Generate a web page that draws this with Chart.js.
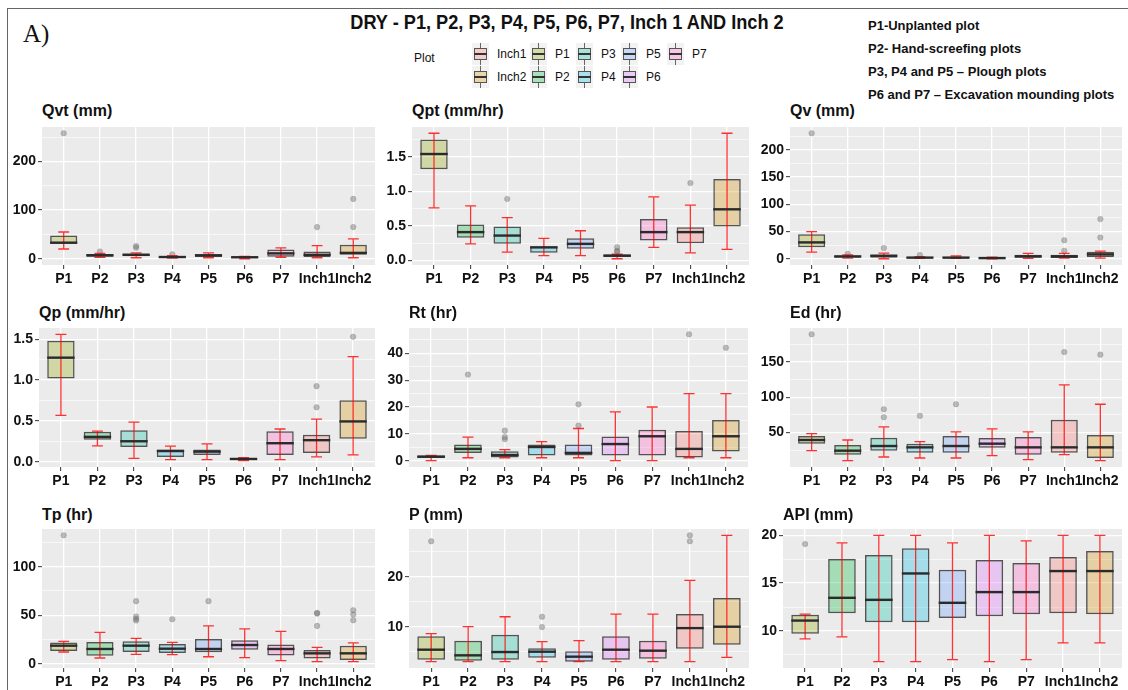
<!DOCTYPE html>
<html lang="en">
<head>
<meta charset="UTF-8">
<title>DRY - box plots</title>
<style>
    body {
        margin: 0;
        width: 1128px;
        height: 690px;
        background: #ffffff;
        position: relative;
        overflow: hidden;
        font-family: 'Liberation Sans', Arial, sans-serif;
        color: #111;
    }
    .frameTop { position: absolute; left: 7px; top: 8px; width: 1121px; height: 0; border-top: 1.5px solid #666; }
    .frameLeft { position: absolute; left: 7px; top: 8px; width: 0; height: 682px; border-left: 1.5px solid #666; }
    .tag { position: absolute; left: 23px; top: 21px; font-family: 'Liberation Serif', 'Times New Roman', serif; font-size: 25px; line-height: 25px; }
    .mainTitle { position: absolute; left: 267px; width: 600px; top: 11px; text-align: center; white-space: nowrap; font-weight: bold; font-size: 21px; line-height: 22px; transform: scaleX(0.865); transform-origin: 300px 0; }
    .notes { position: absolute; left: 868px; top: 14px; font-weight: bold; font-size: 13px; line-height: 23px; white-space: nowrap; }
    .plotLbl { position: absolute; left: 414px; top: 50px; font-size: 12px; line-height: 16px; }
    .key { position: absolute; width: 17px; height: 22px; background: #f2f2f2; }
    .key .wl { position: absolute; left: 8px; top: 0; width: 1px; height: 22px; background: #666; }
    .key .kb { position: absolute; left: 2px; top: 5px; width: 11px; height: 10px; border: 1px solid #555; }
    .key .km { position: absolute; left: 2px; top: 10px; width: 13px; height: 1.5px; background: #333; }
    .keyLbl { position: absolute; font-size: 12px; line-height: 16px; }
    .ptitle { position: absolute; font-weight: bold; font-size: 16px; line-height: 18px; }
    canvas { position: absolute; }
</style>
</head>
<body>
<div class="frameTop"></div>
<div class="frameLeft"></div>
<div class="tag">A)</div>
<div class="mainTitle">DRY - P1, P2, P3, P4, P5, P6, P7, Inch 1 AND Inch 2</div>
<div class="notes">
    P1-Unplanted plot<br>
    P2- Hand-screefing plots<br>
    P3, P4 and P5 – Plough plots<br>
    P6 and P7 – Excavation mounding plots
</div>
<div class="plotLbl">Plot</div>
<div id="legend"></div>
<div id="panels"></div>

<script src="https://cdn.jsdelivr.net/npm/chart.js@4.4.1/dist/chart.umd.min.js"></script>
<script>
    // categories and fill colours (ggplot hue palette)
    const categories = ['P1', 'P2', 'P3', 'P4', 'P5', 'P6', 'P7', 'Inch1', 'Inch2'];
    const fillColors = ['#93AA00', '#00BA38', '#00C19F', '#00B9E3', '#619CFF', '#DB72FB', '#FF61C3', '#F8766D', '#D39200'];
    const legendOrder = ['Inch1', 'Inch2', 'P1', 'P2', 'P3', 'P4', 'P5', 'P6', 'P7'];

    // Qvt (mm)
    const qvtLow  = [20, 3, 2, 1.5, 2, 0, 3, 2, 2];
    const qvtQ1   = [31, 4, 5.5, 2, 3.4, 1.4, 4, 3.4, 8];
    const qvtMed  = [33, 7, 8, 3.5, 7, 3, 11, 8, 12];
    const qvtQ3   = [48, 9.6, 11, 5.5, 9, 4.5, 19, 15, 29];
    const qvtHigh = [55, 11, 12, 6.5, 12, 5, 22.5, 27, 41];
    const qvtOut  = [['P1', 258], ['P2', 15], ['P3', 26], ['P3', 22.5], ['P4', 9], ['Inch1', 65], ['Inch2', 123], ['Inch2', 65]];
    const qvtTicks = [0, 100, 200];
    const qvtTickLabels = ['0', '100', '200'];

    // Qpt (mm/hr)
    const qptLow  = [0.76, 0.24, 0.12, 0.07, 0.07, 0.025, 0.19, 0.11, 0.16];
    const qptQ1   = [1.32, 0.33, 0.24, 0.11, 0.17, 0.05, 0.29, 0.25, 0.49];
    const qptMed  = [1.54, 0.41, 0.36, 0.19, 0.24, 0.07, 0.41, 0.41, 0.74];
    const qptQ3   = [1.75, 0.52, 0.49, 0.20, 0.32, 0.085, 0.60, 0.48, 1.18];
    const qptHigh = [1.84, 0.79, 0.62, 0.32, 0.43, 0.09, 0.92, 0.80, 1.84];
    const qptOut  = [['P3', 0.89], ['P6', 0.19], ['P6', 0.14], ['P6', 0.125], ['Inch1', 1.12]];
    const qptTicks = [0, 0.5, 1.0, 1.5];
    const qptTickLabels = ['0.0', '0.5', '1.0', '1.5'];

    // Qv (mm)
    const qvLow  = [12, 1, 0, 0.5, 0.6, 0, 0.6, 1.2, 1.2];
    const qvQ1   = [21, 2, 2, 0.8, 0.8, 0.3, 2, 1.5, 3];
    const qvMed  = [30, 4.3, 5.5, 2, 2, 1.2, 4.3, 4.3, 8];
    const qvQ3   = [45, 5.5, 7.3, 3.5, 3.5, 3, 7.3, 7.3, 12.8];
    const qvHigh = [50, 7, 10.4, 3.8, 5, 3, 9.8, 9.8, 14];
    const qvOut  = [['P1', 230.6], ['P2', 9], ['P3', 19.6], ['P4', 6.7], ['Inch1', 34], ['Inch1', 14.7], ['Inch2', 73], ['Inch2', 39]];
    const qvTicks = [0, 50, 100, 150, 200];
    const qvTickLabels = ['0', '50', '100', '150', '200'];

    // Qp (mm/hr)
    const qpLow  = [0.567, 0.193, 0.041, 0.025, 0.025, 0.012, 0.025, 0.058, 0.082];
    const qpQ1   = [1.02, 0.267, 0.181, 0.058, 0.082, 0.025, 0.082, 0.107, 0.28];
    const qpMed  = [1.274, 0.304, 0.25, 0.13, 0.123, 0.033, 0.226, 0.263, 0.493];
    const qpQ3   = [1.48, 0.366, 0.386, 0.148, 0.148, 0.041, 0.374, 0.33, 0.752];
    const qpHigh = [1.56, 0.374, 0.485, 0.19, 0.218, 0.05, 0.40, 0.52, 1.286];
    const qpOut  = [['Inch1', 0.925], ['Inch1', 0.666], ['Inch2', 1.53]];
    const qpTicks = [0, 0.5, 1.0, 1.5];
    const qpTickLabels = ['0.0', '0.5', '1.0', '1.5'];

    // Rt (hr)
    const rtLow  = [0, 1.1, 1.1, 1.1, 1.1, 0, 0, 1.1, 1.1];
    const rtQ1   = [1.0, 2.9, 1.2, 1.9, 1.9, 1.9, 1.9, 1.2, 3.4];
    const rtMed  = [1.5, 4.4, 2.1, 5.1, 2.9, 6.2, 9.1, 4.4, 9.1];
    const rtQ3   = [1.9, 6, 3.5, 6, 6, 9, 11.5, 11.1, 15.2];
    const rtHigh = [2.0, 8.8, 4.1, 7.1, 12, 18.2, 20, 25, 25];
    const rtOut  = [['P2', 32.1], ['P3', 11.2], ['P3', 8.8], ['P3', 8.0], ['P5', 21], ['P5', 13.1], ['Inch1', 47.1], ['Inch2', 42.1]];
    const rtTicks = [0, 10, 20, 30, 40];
    const rtTickLabels = ['0', '10', '20', '30', '40'];

    // Ed (hr)
    const edLow  = [24.5, 10.4, 15.6, 14.2, 14.2, 17.5, 11.8, 18.9, 10.4];
    const edQ1   = [34.4, 18.9, 24.5, 21.7, 21.7, 28.8, 18.9, 21.7, 14.2];
    const edMed  = [39.6, 24.5, 31.1, 29.2, 31.1, 34.4, 29.2, 29.2, 29.2];
    const edQ3   = [45.3, 32.5, 42.9, 34.4, 45.3, 42.5, 43.9, 68, 46.7];
    const edHigh = [48.6, 39.6, 58, 37.3, 51, 55.2, 51, 117.5, 90];
    const edOut  = [['P1', 188.7], ['P3', 83], ['P3', 71.7], ['P4', 73.6], ['P5', 90.1], ['Inch1', 163.7], ['Inch2', 160]];
    const edTicks = [50, 100, 150];
    const edTickLabels = ['50', '100', '150'];

    // Tp (hr)
    const tpLow  = [12.1, 5.9, 9.7, 9.3, 7.2, 6.2, 3.1, 2.1, 2.1];
    const tpQ1   = [13.1, 8.3, 12.1, 11, 11.7, 14.5, 8.6, 5.5, 3.8];
    const tpMed  = [18.6, 15.2, 18.6, 15.5, 15.2, 19.3, 15.2, 10.7, 10.7];
    const tpQ3   = [22, 22.4, 23.1, 20.3, 25.5, 24.1, 19.7, 14.1, 18.6];
    const tpHigh = [23.1, 32.4, 26.2, 22, 39, 35.9, 33.4, 16.9, 21.4];
    const tpOut  = [['P1', 132.4], ['P3', 64.5], ['P3', 48.6], ['P3', 46.2], ['P3', 44.5], ['P4', 45.9], ['P5', 64.5],
                    ['Inch1', 52.4], ['Inch1', 51.7], ['Inch1', 39], ['Inch2', 55.2], ['Inch2', 50.7], ['Inch2', 44.8]];
    const tpTicks = [0, 50, 100];
    const tpTickLabels = ['0', '50', '100'];

    // P (mm)
    const pLow  = [3.0, 3.0, 3.0, 3.0, 3.0, 3.0, 3.0, 3.0, 3.87];
    const pQ1   = [3.4, 3.2, 3.4, 3.8, 3.0, 3.4, 3.6, 5.6, 6.4];
    const pMed  = [5.4, 4.27, 4.93, 5.0, 4.0, 5.4, 5.2, 9.73, 10];
    const pQ3   = [8.07, 7.2, 8.4, 5.67, 5.07, 8.07, 7.2, 12.53, 15.73];
    const pHigh = [8.6, 10, 12, 7, 7.2, 12.53, 12.53, 19.27, 28.3];
    const pOut  = [['P1', 27.1], ['P4', 12], ['P4', 9.93], ['Inch1', 28.3], ['Inch1', 27.1]];
    const pTicks = [10, 20];
    const pTickLabels = ['10', '20'];

    // API (mm)
    const apiLow  = [9.16, 9.37, 6.78, 6.78, 7.0, 6.78, 7.0, 8.74, 8.74];
    const apiQ1   = [9.69, 11.85, 10.91, 10.91, 11.36, 11.54, 11.75, 11.85, 11.75];
    const apiMed  = [11.08, 13.46, 13.25, 16.01, 12.94, 14.06, 14.06, 16.26, 16.26];
    const apiQ3   = [11.68, 17.52, 17.94, 18.64, 16.4, 17.41, 17.1, 17.73, 18.36];
    const apiHigh = [11.75, 19.2, 20, 20, 19.2, 20, 19.41, 20, 20];
    const apiOut  = [['P1', 19.09]];
    const apiTicks = [10, 15, 20];
    const apiTickLabels = ['10', '15', '20'];

    const panels = [
        { title: 'Qvt (mm)',    low: qvtLow, q1: qvtQ1, med: qvtMed, q3: qvtQ3, high: qvtHigh, out: qvtOut, ticks: qvtTicks, tickLabels: qvtTickLabels },
        { title: 'Qpt (mm/hr)', low: qptLow, q1: qptQ1, med: qptMed, q3: qptQ3, high: qptHigh, out: qptOut, ticks: qptTicks, tickLabels: qptTickLabels },
        { title: 'Qv (mm)',     low: qvLow,  q1: qvQ1,  med: qvMed,  q3: qvQ3,  high: qvHigh,  out: qvOut,  ticks: qvTicks,  tickLabels: qvTickLabels },
        { title: 'Qp (mm/hr)',  low: qpLow,  q1: qpQ1,  med: qpMed,  q3: qpQ3,  high: qpHigh,  out: qpOut,  ticks: qpTicks,  tickLabels: qpTickLabels },
        { title: 'Rt (hr)',     low: rtLow,  q1: rtQ1,  med: rtMed,  q3: rtQ3,  high: rtHigh,  out: rtOut,  ticks: rtTicks,  tickLabels: rtTickLabels },
        { title: 'Ed (hr)',     low: edLow,  q1: edQ1,  med: edMed,  q3: edQ3,  high: edHigh,  out: edOut,  ticks: edTicks,  tickLabels: edTickLabels },
        { title: 'Tp (hr)',     low: tpLow,  q1: tpQ1,  med: tpMed,  q3: tpQ3,  high: tpHigh,  out: tpOut,  ticks: tpTicks,  tickLabels: tpTickLabels },
        { title: 'P (mm)',      low: pLow,   q1: pQ1,   med: pMed,   q3: pQ3,   high: pHigh,   out: pOut,   ticks: pTicks,   tickLabels: pTickLabels },
        { title: 'API (mm)',    low: apiLow, q1: apiQ1, med: apiMed, q3: apiQ3, high: apiHigh, out: apiOut, ticks: apiTicks, tickLabels: apiTickLabels }
    ];

    // plot area of each panel on the page: left, top, right, bottom
    const panelBoxes = [
        [42, 127, 375, 265], [412, 127, 749, 265], [790, 127, 1122, 265],
        [39, 328, 375, 467], [409, 328, 748, 467], [790, 328, 1122, 467],
        [42, 529, 375, 668], [409, 529, 749, 668], [783, 529, 1122, 668]
    ];
    const titleTops = [102, 304, 506];

    function rgba(hex, a) {
        const n = parseInt(hex.slice(1), 16);
        return `rgba(${n >> 16},${(n >> 8) & 255},${n & 255},${a})`;
    }
    function mixOn(hex, a, bg) {
        const n = parseInt(hex.slice(1), 16);
        const c = [n >> 16, (n >> 8) & 255, n & 255].map(v => Math.round(v * a + bg * (1 - a)));
        return `rgb(${c[0]},${c[1]},${c[2]})`;
    }

    // legend (mini box keys, two rows)
    const legendColX = [472, 530, 576, 621, 667];
    const legendRowY = [43, 66];
    const legend = document.getElementById('legend');
    legendOrder.forEach((name, k) => {
        const col = Math.floor(k / 2), row = k % 2;
        const color = fillColors[categories.indexOf(name)];
        const key = document.createElement('div');
        key.className = 'key';
        key.style.left = legendColX[col] + 'px';
        key.style.top = legendRowY[row] + 'px';
        key.innerHTML = `<div class="wl"></div><div class="kb" style="background:${mixOn(color, 0.3, 242)}"></div><div class="km"></div>`;
        legend.appendChild(key);
        const lbl = document.createElement('div');
        lbl.className = 'keyLbl';
        lbl.textContent = name;
        lbl.style.left = (legendColX[col] + 25) + 'px';
        lbl.style.top = (legendRowY[row] + 3) + 'px';
        legend.appendChild(lbl);
    });

    Chart.defaults.font.family = "'Liberation Sans', Arial, sans-serif";

    // panel background + whiskers + medians
    const boxPlugin = {
        id: 'boxParts',
        beforeDraw(chart) {
            const a = chart.chartArea, ctx = chart.ctx;
            ctx.save();
            ctx.fillStyle = '#EBEBEB';
            ctx.fillRect(a.left, a.top, a.right - a.left, a.bottom - a.top);
            ctx.restore();
        },
        afterDatasetsDraw(chart, args, opts) {
            const x = chart.scales.x, y = chart.scales.y, ctx = chart.ctx;
            ctx.save();
            ctx.strokeStyle = 'rgba(255,0,0,0.8)';
            ctx.lineWidth = 1.3;
            opts.low.forEach((lo, i) => {
                const cx = x.getPixelForValue(i + 1);
                const c0 = x.getPixelForValue(i + 1 - 0.15), c1 = x.getPixelForValue(i + 1 + 0.15);
                const yl = y.getPixelForValue(lo), yh = y.getPixelForValue(opts.high[i]);
                ctx.beginPath();
                ctx.moveTo(cx, yl); ctx.lineTo(cx, yh);
                ctx.moveTo(c0, yl); ctx.lineTo(c1, yl);
                ctx.moveTo(c0, yh); ctx.lineTo(c1, yh);
                ctx.stroke();
            });
            ctx.strokeStyle = '#2b2b2b';
            ctx.lineWidth = 2.4;
            opts.med.forEach((m, i) => {
                const ym = y.getPixelForValue(m);
                ctx.beginPath();
                ctx.moveTo(x.getPixelForValue(i + 1 - 0.375), ym);
                ctx.lineTo(x.getPixelForValue(i + 1 + 0.375), ym);
                ctx.stroke();
            });
            ctx.restore();
        }
    };

    const YW = 44, PADT = 16, PADR = 8, XH = 30;
    const holder = document.getElementById('panels');

    panels.forEach((p, k) => {
        const [left, top, right, bottom] = panelBoxes[k];
        const t = document.createElement('div');
        t.className = 'ptitle';
        t.textContent = p.title;
        t.style.left = left + 'px';
        t.style.top = titleTops[Math.floor(k / 3)] + 'px';
        holder.appendChild(t);

        const canvas = document.createElement('canvas');
        canvas.width = YW + (right - left) + PADR;
        canvas.height = PADT + (bottom - top) + XH;
        canvas.style.left = (left - YW) + 'px';
        canvas.style.top = (top - PADT) + 'px';
        holder.appendChild(canvas);

        // y range: data extent expanded by 5%
        const vals = p.low.concat(p.high, p.out.map(o => o[1]));
        const lo = Math.min(...vals), hi = Math.max(...vals);
        const yMin = lo - 0.05 * (hi - lo), yMax = hi + 0.05 * (hi - lo);
        const step = p.ticks[1] - p.ticks[0];
        const allTicks = [];
        for (let v = p.ticks[0] - step * Math.ceil((p.ticks[0] - yMin) / step); v <= yMax; v += step / 2) {
            const r = Math.round(v * 1e6) / 1e6;
            if (r >= yMin) allTicks.push(r);
        }
        const isMajor = v => p.ticks.some(tk => Math.abs(tk - v) < 1e-6);

        new Chart(canvas, {
            type: 'bar',
            data: {
                datasets: [{
                    data: categories.map((c, i) => ({ x: i + 1, y: [p.q1[i], p.q3[i]] })),
                    backgroundColor: fillColors.map(c => rgba(c, 0.3)),
                    borderColor: 'rgba(45,45,45,0.8)',
                    borderWidth: 1.5,
                    borderSkipped: false,
                    categoryPercentage: 1,
                    barPercentage: 0.75
                }, {
                    type: 'scatter',
                    data: p.out.map(o => ({ x: categories.indexOf(o[0]) + 1, y: o[1] })),
                    pointRadius: 2.8,
                    backgroundColor: 'rgba(110,110,110,0.45)',
                    borderColor: 'rgba(110,110,110,0.45)',
                    borderWidth: 0.5
                }]
            },
            options: {
                responsive: false,
                animation: false,
                layout: { padding: { top: PADT, right: PADR, left: 0, bottom: 0 } },
                plugins: {
                    legend: { display: false },
                    tooltip: { enabled: false },
                    boxParts: { low: p.low, med: p.med, high: p.high }
                },
                scales: {
                    x: {
                        type: 'linear',
                        min: 0.4,
                        max: 9.6,
                        offset: false,
                        afterBuildTicks: s => { s.ticks = categories.map((c, i) => ({ value: i + 1 })); },
                        afterFit: s => { s.height = XH; },
                        grid: { offset: false, color: '#ffffff', lineWidth: 1.3, tickColor: '#333', tickLength: 4, tickWidth: 1 },
                        border: { display: false },
                        ticks: {
                            autoSkip: false, maxRotation: 0, minRotation: 0, padding: 2,
                            color: '#111', font: { size: 14, weight: 'bold' },
                            callback: v => categories[Math.round(v) - 1]
                        }
                    },
                    y: {
                        type: 'linear',
                        min: yMin,
                        max: yMax,
                        afterBuildTicks: s => { s.ticks = allTicks.map(v => ({ value: v })); },
                        afterFit: s => { s.width = YW; },
                        grid: {
                            color: '#ffffff',
                            lineWidth: c => isMajor(c.tick.value) ? 1.3 : 0.6,
                            tickColor: c => isMajor(c.tick.value) ? '#333' : 'rgba(0,0,0,0)',
                            tickWidth: 1,
                            tickLength: 4
                        },
                        border: { display: false },
                        ticks: {
                            autoSkip: false, padding: 2,
                            color: '#111', font: { size: 14, weight: 'bold' },
                            callback: v => {
                                const i = p.ticks.findIndex(tk => Math.abs(tk - v) < 1e-6);
                                return i >= 0 ? p.tickLabels[i] : '';
                            }
                        }
                    }
                }
            },
            plugins: [boxPlugin]
        });
    });
</script>
</body>
</html>
